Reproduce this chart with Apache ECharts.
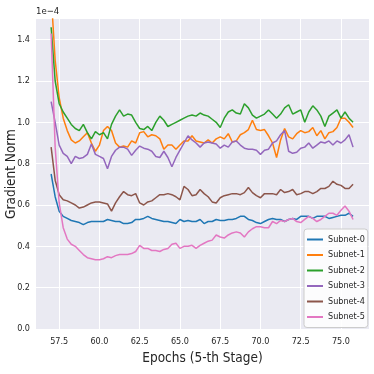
<!doctype html>
<html>
<head>
    <meta charset="utf-8">
    <title>Gradient Norm</title>
    <script src="https://cdn.jsdelivr.net/npm/echarts@6/dist/echarts.min.js"></script>
    <style>
        html, body{ margin:0; padding:0; background:#fff; }
        #chartBox{ width:374px; height:374px; }
    </style>
</head>
<body>
<div id="chartBox"></div>
<script type="text/javascript">
    // epochs, step 0.25
    var epochs = [];
    for (var i = 0; i < 76; i++) { epochs.push(57 + i * 0.25); }

    var xTicks = [57.5, 60, 62.5, 65, 67.5, 70, 72.5, 75];
    var yTicks = [0, 0.2, 0.4, 0.6, 0.8, 1.0, 1.2, 1.4];
    var names = ['Subnet-0', 'Subnet-1', 'Subnet-2', 'Subnet-3', 'Subnet-4', 'Subnet-5'];

    // gradient norm, unit 1e-4
    var subnet0 = [0.75,0.64,0.57,0.545,0.535,0.525,0.52,0.515,0.505,0.515,0.52,0.52,0.52,0.52,0.53,0.525,0.52,0.52,0.51,0.51,
        0.515,0.53,0.53,0.535,0.545,0.535,0.53,0.525,0.52,0.52,0.515,0.51,0.53,0.52,0.525,0.52,0.52,0.53,0.51,0.52,
        0.52,0.53,0.525,0.525,0.53,0.53,0.535,0.545,0.545,0.53,0.525,0.515,0.51,0.52,0.53,0.535,0.53,0.53,0.52,0.53,
        0.535,0.53,0.545,0.545,0.545,0.535,0.545,0.545,0.545,0.535,0.54,0.545,0.55,0.55,0.56,0.545];
    var subnet1 = [1.62,1.30,1.12,1.02,0.96,0.915,0.90,0.91,0.93,0.95,0.90,0.86,0.89,0.96,0.98,0.96,0.90,0.88,0.885,0.88,
        0.91,0.90,0.95,0.955,0.93,0.94,0.935,0.92,0.87,0.89,0.89,0.87,0.89,0.91,0.91,0.935,0.91,0.905,0.90,0.915,
        0.90,0.92,0.93,0.92,0.945,0.905,0.91,0.94,0.95,0.965,1.01,0.965,0.96,0.965,0.935,0.90,0.83,0.915,0.97,0.93,
        0.92,0.945,0.96,0.95,0.955,0.975,0.935,0.96,0.92,0.95,0.955,0.975,1.02,1.02,1.00,0.975];
    var subnet2 = [1.46,1.20,1.09,1.05,1.02,0.99,0.97,0.96,0.99,0.95,0.92,0.955,0.94,0.95,0.92,0.99,1.03,1.06,1.03,1.04,
        1.035,1.00,0.97,0.965,0.98,0.96,1.00,1.03,1.01,0.98,0.99,1.00,1.01,1.02,1.03,1.035,1.03,1.045,1.035,1.03,
        1.015,1.00,0.975,1.02,1.05,1.06,1.045,1.04,1.09,1.07,1.035,1.02,1.03,1.04,1.06,1.04,1.02,1.04,1.07,1.085,
        1.04,1.05,1.06,1.00,1.05,1.08,1.06,1.03,0.98,1.03,1.045,1.06,1.02,1.05,1.02,1.00];
    var subnet3 = [1.10,1.00,0.89,0.85,0.835,0.80,0.835,0.825,0.83,0.845,0.895,0.845,0.835,0.825,0.775,0.835,0.865,0.88,0.88,0.87,
        0.84,0.865,0.885,0.875,0.87,0.86,0.835,0.83,0.86,0.83,0.785,0.83,0.865,0.90,0.935,0.915,0.90,0.88,0.90,0.905,
        0.90,0.895,0.875,0.89,0.88,0.905,0.91,0.89,0.875,0.87,0.87,0.865,0.845,0.865,0.87,0.90,0.91,0.94,0.96,0.86,
        0.85,0.855,0.875,0.88,0.90,0.875,0.89,0.905,0.90,0.91,0.89,0.91,0.90,0.915,0.94,0.88];
    var subnet4 = [0.88,0.72,0.65,0.625,0.62,0.61,0.60,0.585,0.59,0.60,0.61,0.615,0.615,0.61,0.605,0.57,0.61,0.64,0.665,0.65,
        0.645,0.655,0.61,0.60,0.615,0.62,0.635,0.65,0.65,0.655,0.65,0.64,0.625,0.69,0.675,0.645,0.65,0.675,0.655,0.64,
        0.615,0.61,0.635,0.645,0.65,0.655,0.655,0.65,0.66,0.685,0.66,0.645,0.635,0.655,0.655,0.655,0.65,0.675,0.66,0.665,
        0.675,0.65,0.655,0.665,0.665,0.655,0.665,0.68,0.68,0.69,0.715,0.70,0.695,0.68,0.68,0.70];
    var subnet5 = [1.43,0.88,0.61,0.49,0.435,0.41,0.40,0.38,0.36,0.345,0.34,0.335,0.335,0.34,0.35,0.345,0.355,0.36,0.36,0.36,
        0.365,0.375,0.405,0.39,0.39,0.38,0.38,0.375,0.385,0.39,0.41,0.415,0.39,0.40,0.40,0.405,0.39,0.405,0.415,0.425,
        0.43,0.455,0.445,0.44,0.455,0.465,0.47,0.465,0.445,0.47,0.485,0.495,0.495,0.49,0.49,0.52,0.51,0.525,0.52,0.53,
        0.535,0.52,0.515,0.53,0.545,0.535,0.52,0.53,0.545,0.56,0.56,0.55,0.575,0.595,0.57,0.53];

    var allValues = [subnet0, subnet1, subnet2, subnet3, subnet4, subnet5];
    var colorList = ['#1f77b4', '#ff7f0e', '#2ca02c', '#9467bd', '#8c564b', '#e377c2'];
    var fontName = '"DejaVu Sans Condensed", "DejaVu Sans", sans-serif';

    function chartInit(){
        var myChart = echarts.init(document.getElementById('chartBox'), null, {renderer: 'canvas'});
        var series = [];
        for (var k = 0; k < names.length; k++) {
            var pts = [];
            for (var j = 0; j < epochs.length; j++) {
                pts.push([epochs[j], allValues[k][j]]);
            }
            series.push({
                name: names[k],
                type: 'line',
                data: pts,
                showSymbol: false,
                symbol: 'none',
                lineStyle: { width: 1.5, color: colorList[k] },
                itemStyle: { color: colorList[k] },
                clip: true
            });
        }
        var option = {
            animation: false,
            backgroundColor: '#fff',
            grid: {
                left: 36, right: 5, top: 19, bottom: 45,
                containLabel: false, outerBoundsMode: 'none',
                show: true, backgroundColor: '#eaeaf2', borderWidth: 0
            },
            graphic: [{
                type: 'text', left: 36, top: 7,
                style: { text: '1e\u22124', fontSize: 9.5, fontFamily: fontName, fill: '#262626' }
            }],
            legend: {
                orient: 'vertical',
                left: 304, top: 229,
                padding: [5, 3, 5, 3],
                itemGap: 4.5,
                itemWidth: 16, itemHeight: 2,
                icon: 'rect',
                backgroundColor: 'rgba(255,255,255,0.85)',
                borderColor: '#cccccc', borderWidth: 1, borderRadius: 3,
                textStyle: { fontSize: 9, fontFamily: fontName, color: '#262626', lineHeight: 11 },
                data: names
            },
            xAxis: {
                type: 'value', min: 56.06, max: 76.74,
                name: 'Epochs (5-th Stage)', nameLocation: 'middle', nameGap: 22,
                nameMoveOverlap: false,
                nameTextStyle: { fontSize: 13.5, fontFamily: fontName, color: '#262626' },
                axisLine: { show: false },
                axisTick: { show: false, customValues: xTicks },
                axisLabel: {
                    customValues: xTicks, fontSize: 9, fontFamily: fontName, color: '#262626', margin: 8,
                    formatter: function (v) { return v.toFixed(1); }
                },
                splitLine: { show: true, lineStyle: { color: '#fff', width: 1 } }
            },
            yAxis: {
                type: 'value', min: 0, max: 1.5,
                name: 'Gradient Norm', nameLocation: 'middle', nameGap: 18,
                nameMoveOverlap: false,
                nameTextStyle: { fontSize: 13.5, fontFamily: fontName, color: '#262626' },
                axisLine: { show: false },
                axisTick: { show: false, customValues: yTicks },
                axisLabel: {
                    customValues: yTicks, fontSize: 9, fontFamily: fontName, color: '#262626', margin: 6,
                    formatter: function (v) { return v.toFixed(1); }
                },
                splitLine: { show: true, lineStyle: { color: '#fff', width: 1 } }
            },
            series: series
        };
        myChart.clear();
        myChart.setOption(option);
    }
    chartInit();
</script>
</body>
</html>
